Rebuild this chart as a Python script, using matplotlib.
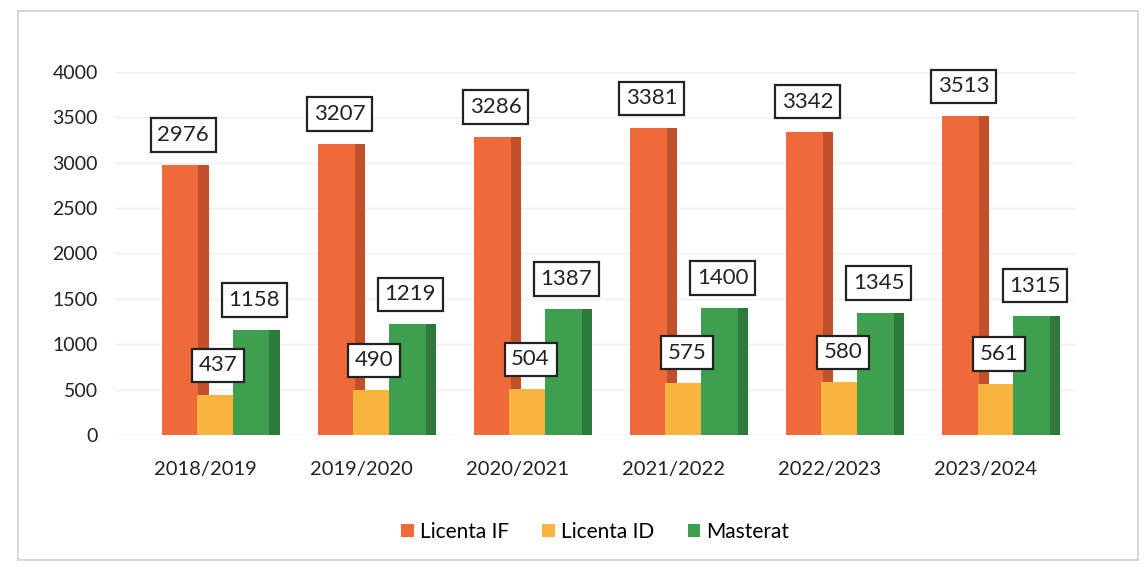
import matplotlib
matplotlib.use("Agg")
import matplotlib.pyplot as plt
import numpy as np
from matplotlib.patches import Rectangle

years = ["2018/2019", "2019/2020", "2020/2021", "2021/2022", "2022/2023", "2023/2024"]
licenta_if = [2976, 3207, 3286, 3381, 3342, 3513]
licenta_id = [437, 490, 504, 575, 580, 561]
masterat = [1158, 1219, 1387, 1400, 1345, 1315]
series_names = ["Licenta IF", "Licenta ID", "Masterat"]

plt.rcParams['font.family'] = ['Lato', 'DejaVu Sans']

colors = ["#EF6A3A", "#F8B43E", "#3E9F4E"]
side_colors = ["#C2502A", "#D5952E", "#2E7A3A"]

fig = plt.figure(figsize=(11.45, 5.67), dpi=100)
fig.patches.append(Rectangle((0.016, 0.012), 0.978, 0.968, transform=fig.transFigure,
                             fill=False, edgecolor="#cfcfcf", linewidth=1.2))
ax = fig.add_axes([0.100, 0.233, 0.84, 0.640])

x = np.arange(len(years))
w = 0.235
sw = 0.07
offsets = [-0.16, 0.065, 0.295]
all_series = [licenta_if, licenta_id, masterat]

for k, (vals, name) in enumerate(zip(all_series, series_names)):
    pos = x + offsets[k]
    ax.bar(pos + w / 2 + sw / 2 - 0.005, vals, width=sw, color=side_colors[k], zorder=2 + k * 2)
    ax.bar(pos, vals, width=w, color=colors[k], label=name, zorder=3 + k * 2)
    for p, v in zip(pos, vals):
        ax.text(p + 0.02, v + 330, str(v), ha="center", va="center", fontsize=16, color="#222222",
                zorder=20,
                bbox=dict(boxstyle="square,pad=0.3", facecolor="white", edgecolor="#222222", linewidth=1.6))

ax.set_ylim(0, 4000)
ax.set_yticks(np.arange(0, 4001, 500))
ax.set_xlim(-0.58, 5.58)
ax.set_xticks(x)
ax.set_xticklabels(years, fontsize=14.5, color="#222222")
ax.tick_params(axis="y", labelsize=14, colors="#222222", length=0, pad=12)
ax.tick_params(axis="x", length=0, pad=19)
ax.yaxis.grid(True, color="#efefef", linewidth=1)
ax.set_axisbelow(True)
for s in ax.spines.values():
    s.set_visible(False)

fig.legend(loc="center", bbox_to_anchor=(0.52, 0.062), ncol=3, frameon=False,
           fontsize=15, handlelength=0.6, handleheight=0.6, columnspacing=1.6, handletextpad=0.3)

fig.savefig("out.png", dpi=100, facecolor="white")
